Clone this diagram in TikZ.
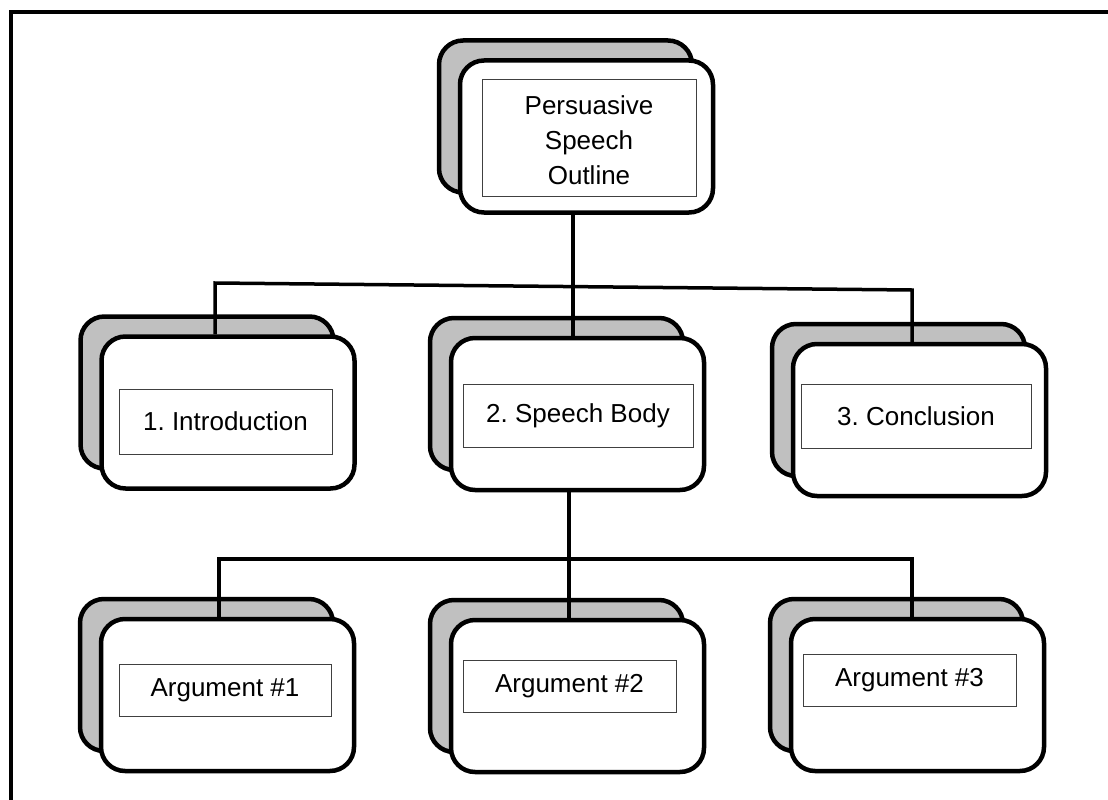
\documentclass[tikz,border=0pt]{standalone}
\usepackage{fontspec}
\setmainfont{Liberation Sans}
\frenchspacing
\definecolor{cardgray}{HTML}{C0C0C0}
\tikzset{
  card/.style={draw, line width=4.5pt, rounded corners=24pt, fill=white,
    minimum width=253pt, minimum height=152pt, inner sep=0pt},
  titlebox/.style={draw=black!75, line width=1pt, fill=white, inner sep=0pt,
    align=center, font=\fontsize{26}{35}\selectfont},
  link/.style={line width=3.5pt}
}
\begin{document}
\begin{tikzpicture}[x=1pt, y=-1pt]
  \useasboundingbox (0,0) rectangle (1108,800);
  \draw[line width=4pt] (11,800) -- (11,12) -- (1108,12);

  % top of the outline
  \node[card, fill=cardgray] (topback) at (565.5,116.5) {};
  \node[card] (top) at (586.5,136.5) {};
  \node[titlebox, minimum width=214pt, minimum height=117pt] (toptext) at (589,137.5)
    {\raisebox{-5pt}[\height][\depth]{\begin{tabular}{@{}c@{}}Persuasive\\Speech\\Outline\end{tabular}}};

  % sections and arguments
  \foreach \nm/\bx/\by/\lx/\ly/\lw/\lh/\txt in {
      intro/228/412.5/225.5/421.5/213/65/{1. Introduction},
      body/577.5/414/578/415.5/230/63/{2. Speech Body},
      concl/919.5/420/916/416/230/64/{3. Conclusion},
      argone/227.5/695/225/690/212/52/{Argument \#1},
      argtwo/577.5/696/569.5/686/213/52/{Argument \#2},
      argthree/917.5/695/909.5/680/213/52/{Argument \#3}%
  } {
      \node[card, fill=cardgray] (\nm back) at (\bx-21,\by-20) {};
      \node[card] (\nm) at (\bx,\by) {};
      \node[titlebox, minimum width=\lw pt, minimum height=\lh pt] (\nm text) at (\lx,\ly) {\txt};
  }

  % connectors
  \coordinate (splitleft) at (215,283);
  \coordinate (splitmid) at (573,286.6);
  \coordinate (splitright) at (912,290);
  \draw[link] (top.south -| splitmid) -- (body.north -| splitmid);
  \draw[link] (intro.north -| splitleft) -- (splitleft) -- (splitright) -- (concl.north -| splitright);

  \coordinate (lowleft) at (219,559);
  \coordinate (lowmid) at (569,559);
  \coordinate (lowright) at (912,559);
  \draw[link] (body.south -| lowmid) -- (argtwo.north -| lowmid);
  \draw[link] (argone.north -| lowleft) -- (lowleft) -- (lowright) -- (argthree.north -| lowright);
\end{tikzpicture}
\end{document}
